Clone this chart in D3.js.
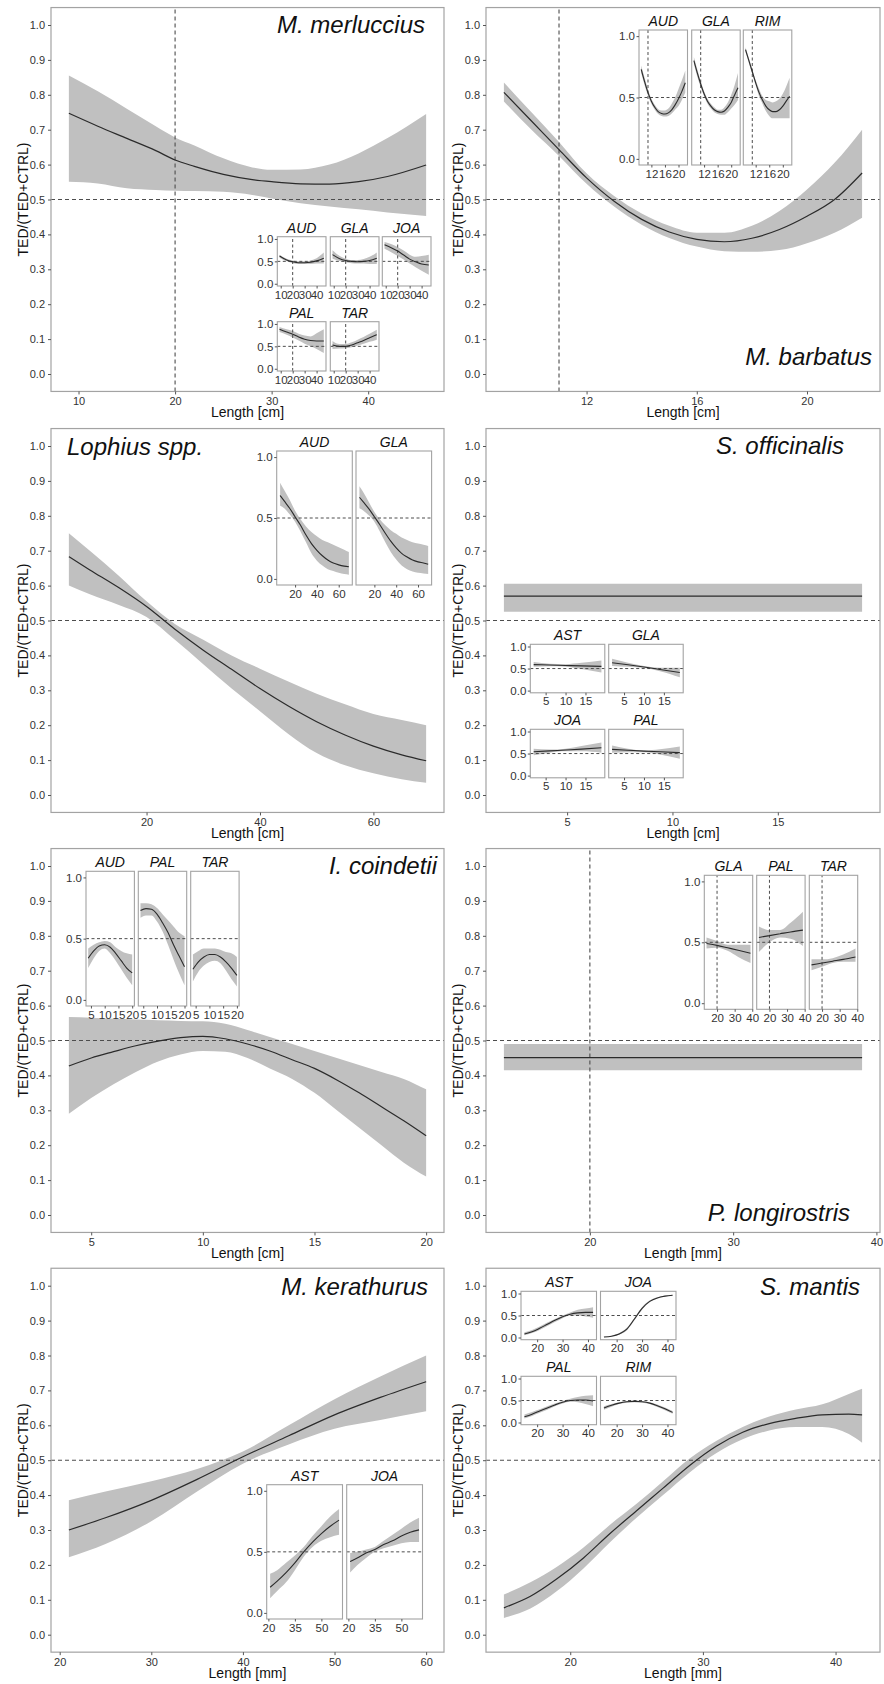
<!DOCTYPE html>
<html>
<head>
<meta charset="utf-8">
<script src="https://cdn.jsdelivr.net/npm/d3@7"></script>
<style>
  body { margin: 0; background: #fff; }
  text { font-family: "Liberation Sans", Arial, sans-serif; }
</style>
</head>
<body>
<svg id="chart" width="884" height="1684"></svg>
<script>
// ---- main panels: length, fitted proportion, lower / upper 95% band ----
const mmX   = [9, 12, 15, 18, 20, 22, 25, 28, 30, 33, 36, 39, 42, 46];
const mmFit = [0.747, 0.71, 0.675, 0.64, 0.613, 0.595, 0.572, 0.557, 0.551, 0.545, 0.544, 0.551, 0.566, 0.599];
const mmLo  = [0.551, 0.546, 0.532, 0.527, 0.525, 0.524, 0.522, 0.513, 0.503, 0.489, 0.48, 0.472, 0.463, 0.453];
const mmHi  = [0.855, 0.81, 0.76, 0.71, 0.678, 0.655, 0.618, 0.592, 0.585, 0.586, 0.60, 0.632, 0.676, 0.745];

const mbX   = [9, 10, 11, 12, 13, 14, 15, 16, 17, 18, 19, 20, 21, 22];
const mbFit = [0.807, 0.725, 0.643, 0.562, 0.495, 0.443, 0.407, 0.386, 0.379, 0.389, 0.414, 0.452, 0.50, 0.576];
const mbLo  = [0.781, 0.70, 0.625, 0.545, 0.48, 0.428, 0.39, 0.365, 0.352, 0.35, 0.355, 0.375, 0.405, 0.448];
const mbHi  = [0.835, 0.75, 0.665, 0.575, 0.51, 0.46, 0.425, 0.405, 0.405, 0.425, 0.467, 0.529, 0.605, 0.70];

const loX   = [6.3, 10, 15, 20, 25, 30, 35, 40, 45, 50, 55, 60, 65, 69.3];
const loFit = [0.683, 0.645, 0.595, 0.54, 0.475, 0.415, 0.36, 0.305, 0.255, 0.21, 0.172, 0.14, 0.115, 0.098];
const loLo  = [0.60, 0.575, 0.545, 0.51, 0.445, 0.375, 0.305, 0.24, 0.175, 0.12, 0.085, 0.062, 0.045, 0.035];
const loHi  = [0.75, 0.70, 0.63, 0.555, 0.49, 0.445, 0.40, 0.362, 0.325, 0.29, 0.26, 0.232, 0.215, 0.20];

const soX   = [2, 19];
const soFit = [0.57, 0.57];
const soLo  = [0.525, 0.525];
const soHi  = [0.605, 0.605];

const icX   = [4, 5, 6, 7, 8, 9, 10, 11, 12, 13, 14, 15, 16, 17, 18, 19, 20];
const icFit = [0.427, 0.45, 0.468, 0.485, 0.498, 0.508, 0.512, 0.505, 0.49, 0.47, 0.445, 0.42, 0.387, 0.35, 0.31, 0.27, 0.227];
const icLo  = [0.29, 0.335, 0.375, 0.41, 0.44, 0.46, 0.47, 0.468, 0.45, 0.42, 0.39, 0.35, 0.30, 0.25, 0.20, 0.15, 0.11];
const icHi  = [0.567, 0.565, 0.562, 0.56, 0.558, 0.556, 0.555, 0.548, 0.53, 0.51, 0.49, 0.47, 0.45, 0.43, 0.41, 0.39, 0.36];

const plX   = [14, 39];
const plFit = [0.451, 0.451];
const plLo  = [0.415, 0.415];
const plHi  = [0.49, 0.49];

const mkX   = [21, 25, 30, 35, 40, 45, 50, 55, 60];
const mkFit = [0.30, 0.335, 0.385, 0.445, 0.51, 0.57, 0.63, 0.68, 0.725];
const mkLo  = [0.222, 0.26, 0.325, 0.41, 0.49, 0.545, 0.59, 0.615, 0.64];
const mkHi  = [0.385, 0.41, 0.44, 0.475, 0.525, 0.60, 0.675, 0.74, 0.80];

const smX   = [15, 17, 19, 21, 23, 25, 27, 29, 31, 33, 35, 37, 39, 41, 42];
const smFit = [0.077, 0.11, 0.16, 0.22, 0.29, 0.355, 0.42, 0.485, 0.54, 0.58, 0.605, 0.62, 0.63, 0.632, 0.63];
const smLo  = [0.048, 0.075, 0.125, 0.19, 0.265, 0.335, 0.40, 0.465, 0.52, 0.56, 0.585, 0.595, 0.595, 0.575, 0.55];
const smHi  = [0.115, 0.15, 0.195, 0.25, 0.315, 0.375, 0.44, 0.505, 0.555, 0.595, 0.625, 0.645, 0.66, 0.69, 0.705];

// ---- inset panels (per area) ----
const mmInX = [9, 15, 20, 25, 30, 35, 40, 46];
const mmAudFit = [0.62, 0.53, 0.49, 0.47, 0.47, 0.48, 0.51, 0.57];
const mmAudLo  = [0.58, 0.50, 0.46, 0.44, 0.44, 0.44, 0.45, 0.45];
const mmAudHi  = [0.65, 0.56, 0.52, 0.50, 0.50, 0.52, 0.57, 0.70];
const mmGlaFit = [0.65, 0.56, 0.52, 0.50, 0.49, 0.50, 0.52, 0.57];
const mmGlaLo  = [0.56, 0.51, 0.48, 0.46, 0.45, 0.45, 0.44, 0.44];
const mmGlaHi  = [0.75, 0.62, 0.56, 0.53, 0.53, 0.55, 0.60, 0.70];
const mmJoaFit = [0.87, 0.80, 0.73, 0.64, 0.55, 0.49, 0.44, 0.42];
const mmJoaLo  = [0.78, 0.70, 0.62, 0.54, 0.45, 0.37, 0.29, 0.20];
const mmJoaHi  = [0.93, 0.88, 0.82, 0.74, 0.65, 0.60, 0.62, 0.65];
const mmPalFit = [0.88, 0.82, 0.77, 0.71, 0.66, 0.63, 0.62, 0.62];
const mmPalLo  = [0.82, 0.76, 0.70, 0.63, 0.56, 0.50, 0.44, 0.35];
const mmPalHi  = [0.93, 0.88, 0.84, 0.78, 0.74, 0.72, 0.79, 0.88];
const mmTarFit = [0.53, 0.50, 0.50, 0.53, 0.58, 0.63, 0.69, 0.76];
const mmTarLo  = [0.44, 0.45, 0.46, 0.48, 0.52, 0.56, 0.60, 0.65];
const mmTarHi  = [0.62, 0.55, 0.55, 0.59, 0.65, 0.71, 0.78, 0.87];

const mbInX = [9, 10, 11, 12, 13, 14, 15, 16, 17, 18, 19, 20, 21, 22];
const mbAudFit = [0.73, 0.63, 0.54, 0.47, 0.42, 0.385, 0.37, 0.365, 0.375, 0.40, 0.44, 0.49, 0.55, 0.62];
const mbAudLo  = [0.70, 0.60, 0.515, 0.45, 0.40, 0.365, 0.35, 0.345, 0.35, 0.37, 0.40, 0.43, 0.48, 0.54];
const mbAudHi  = [0.76, 0.66, 0.565, 0.49, 0.44, 0.405, 0.395, 0.395, 0.41, 0.45, 0.50, 0.57, 0.64, 0.72];
const mbGlaFit = [0.80, 0.70, 0.61, 0.53, 0.47, 0.43, 0.40, 0.385, 0.38, 0.39, 0.42, 0.46, 0.52, 0.58];
const mbGlaLo  = [0.77, 0.67, 0.585, 0.51, 0.45, 0.41, 0.38, 0.365, 0.36, 0.36, 0.38, 0.41, 0.44, 0.48];
const mbGlaHi  = [0.83, 0.73, 0.635, 0.55, 0.49, 0.45, 0.42, 0.40, 0.40, 0.42, 0.46, 0.52, 0.60, 0.70];
const mbRimFit = [0.89, 0.80, 0.71, 0.62, 0.54, 0.48, 0.43, 0.40, 0.385, 0.385, 0.40, 0.43, 0.47, 0.51];
const mbRimLo  = [0.87, 0.78, 0.69, 0.60, 0.51, 0.45, 0.39, 0.35, 0.33, 0.33, 0.33, 0.33, 0.33, 0.33];
const mbRimHi  = [0.91, 0.82, 0.73, 0.64, 0.57, 0.51, 0.48, 0.47, 0.46, 0.47, 0.49, 0.53, 0.59, 0.66];

const loInX = [6.3, 10, 15, 20, 25, 30, 35, 40, 45, 50, 55, 60, 65, 69.3];
const loAudFit = [0.685, 0.64, 0.58, 0.51, 0.44, 0.36, 0.29, 0.235, 0.19, 0.155, 0.13, 0.115, 0.105, 0.10];
const loAudLo  = [0.60, 0.58, 0.53, 0.47, 0.39, 0.30, 0.21, 0.15, 0.11, 0.08, 0.065, 0.05, 0.04, 0.035];
const loAudHi  = [0.79, 0.73, 0.65, 0.56, 0.49, 0.43, 0.385, 0.35, 0.32, 0.30, 0.28, 0.26, 0.24, 0.22];
const loGlaFit = [0.67, 0.63, 0.575, 0.51, 0.445, 0.375, 0.31, 0.255, 0.21, 0.18, 0.155, 0.14, 0.13, 0.12];
const loGlaLo  = [0.58, 0.56, 0.52, 0.47, 0.39, 0.30, 0.22, 0.16, 0.11, 0.08, 0.06, 0.05, 0.045, 0.04];
const loGlaHi  = [0.76, 0.71, 0.63, 0.55, 0.49, 0.44, 0.40, 0.37, 0.34, 0.32, 0.30, 0.29, 0.28, 0.27];

const soInX = [2, 6, 10, 14, 19];
const soAstFit = [0.59, 0.58, 0.57, 0.56, 0.55];
const soAstLo  = [0.54, 0.55, 0.54, 0.49, 0.41];
const soAstHi  = [0.65, 0.61, 0.60, 0.63, 0.68];
const soGlaFit = [0.63, 0.585, 0.535, 0.48, 0.41];
const soGlaLo  = [0.56, 0.54, 0.51, 0.44, 0.30];
const soGlaHi  = [0.72, 0.63, 0.56, 0.52, 0.52];
const soJoaFit = [0.54, 0.56, 0.58, 0.60, 0.63];
const soJoaLo  = [0.46, 0.52, 0.55, 0.55, 0.52];
const soJoaHi  = [0.61, 0.59, 0.61, 0.67, 0.75];
const soPalFit = [0.595, 0.575, 0.555, 0.54, 0.52];
const soPalLo  = [0.52, 0.53, 0.53, 0.48, 0.38];
const soPalHi  = [0.68, 0.61, 0.57, 0.60, 0.66];

const icInX = [4, 6, 8, 10, 12, 14, 16, 18, 20];
const icAudFit = [0.34, 0.40, 0.44, 0.45, 0.43, 0.38, 0.32, 0.26, 0.22];
const icAudLo  = [0.26, 0.34, 0.40, 0.42, 0.38, 0.32, 0.25, 0.18, 0.12];
const icAudHi  = [0.42, 0.45, 0.47, 0.48, 0.47, 0.43, 0.40, 0.38, 0.37];
const icPalFit = [0.73, 0.745, 0.74, 0.70, 0.63, 0.55, 0.45, 0.36, 0.27];
const icPalLo  = [0.67, 0.69, 0.69, 0.64, 0.56, 0.45, 0.33, 0.22, 0.12];
const icPalHi  = [0.79, 0.79, 0.78, 0.75, 0.70, 0.65, 0.60, 0.55, 0.52];
const icTarFit = [0.25, 0.31, 0.35, 0.37, 0.37, 0.35, 0.31, 0.26, 0.20];
const icTarLo  = [0.15, 0.23, 0.28, 0.31, 0.32, 0.30, 0.24, 0.17, 0.11];
const icTarHi  = [0.37, 0.40, 0.42, 0.42, 0.42, 0.41, 0.39, 0.38, 0.35];

const plInX = [14, 20, 26, 32, 39];
const plGlaFit = [0.49, 0.475, 0.455, 0.435, 0.41];
const plGlaLo  = [0.45, 0.455, 0.43, 0.38, 0.33];
const plGlaHi  = [0.54, 0.51, 0.48, 0.48, 0.48];
const plPalFit = [0.54, 0.555, 0.57, 0.585, 0.60];
const plPalLo  = [0.42, 0.50, 0.54, 0.53, 0.47];
const plPalHi  = [0.63, 0.60, 0.60, 0.66, 0.75];
const plTarFit = [0.315, 0.33, 0.345, 0.36, 0.38];
const plTarLo  = [0.27, 0.30, 0.33, 0.34, 0.34];
const plTarHi  = [0.36, 0.36, 0.37, 0.40, 0.45];

const mkInX = [21, 25, 30, 35, 40, 45, 50, 55, 60];
const mkAstFit = [0.21, 0.26, 0.33, 0.41, 0.50, 0.58, 0.65, 0.71, 0.76];
const mkAstLo  = [0.12, 0.18, 0.25, 0.35, 0.46, 0.54, 0.59, 0.62, 0.64];
const mkAstHi  = [0.32, 0.35, 0.41, 0.47, 0.54, 0.63, 0.71, 0.79, 0.85];
const mkJoaFit = [0.42, 0.45, 0.49, 0.52, 0.56, 0.59, 0.63, 0.66, 0.68];
const mkJoaLo  = [0.33, 0.39, 0.45, 0.50, 0.53, 0.55, 0.57, 0.58, 0.58];
const mkJoaHi  = [0.49, 0.50, 0.52, 0.54, 0.59, 0.64, 0.69, 0.74, 0.78];

const smInX = [15, 18, 21, 24, 27, 30, 33, 36, 39, 42];
const smAstFit = [0.08, 0.13, 0.21, 0.30, 0.39, 0.47, 0.53, 0.56, 0.57, 0.57];
const smAstLo  = [0.05, 0.10, 0.17, 0.26, 0.35, 0.44, 0.50, 0.50, 0.48, 0.45];
const smAstHi  = [0.12, 0.17, 0.25, 0.34, 0.42, 0.50, 0.57, 0.63, 0.66, 0.69];
const smJoaFit = [0.01, 0.03, 0.08, 0.19, 0.42, 0.66, 0.82, 0.90, 0.94, 0.96];
const smJoaLo  = [0.005, 0.02, 0.065, 0.16, 0.39, 0.63, 0.80, 0.885, 0.93, 0.95];
const smJoaHi  = [0.015, 0.04, 0.10, 0.22, 0.45, 0.69, 0.84, 0.915, 0.95, 0.97];
const smPalFit = [0.13, 0.19, 0.26, 0.33, 0.40, 0.46, 0.50, 0.51, 0.51, 0.49];
const smPalLo  = [0.09, 0.15, 0.22, 0.29, 0.37, 0.43, 0.47, 0.46, 0.42, 0.37];
const smPalHi  = [0.18, 0.24, 0.30, 0.37, 0.43, 0.49, 0.54, 0.58, 0.61, 0.62];
const smRimFit = [0.33, 0.39, 0.44, 0.47, 0.48, 0.47, 0.44, 0.38, 0.31, 0.23];
const smRimLo  = [0.29, 0.36, 0.42, 0.45, 0.46, 0.45, 0.42, 0.35, 0.28, 0.20];
const smRimHi  = [0.37, 0.42, 0.46, 0.49, 0.50, 0.49, 0.46, 0.41, 0.34, 0.26];

const yTicks = [0, 0.1, 0.2, 0.3, 0.4, 0.5, 0.6, 0.7, 0.8, 0.9, 1.0];
const insetYTicks = [0, 0.5, 1.0];

// ---- layout ----
const colX = [[51, 444], [486, 880]];
const rowOne = [25, 446, 866, 1285.7];   // pixel of y = 1.0 in each row
const UNIT = 349;                         // pixels per 1.0 on main y axis

const RIBBON = "#c0c0c0";
const LINE = "#2b2b2b";
const FRAME = "#a3a3a3";
const DASH = "#4d4d4d";
const TXT = "#333";

const panels = [
  { title: "M. merluccius", col: 0, row: 0, x: mmX, fit: mmFit, lo: mmLo, hi: mmHi, ticks: [10, 20, 30, 40], unit: "cm",
    vline: 20, tpos: [425, 33, "end"],
    inset: { x: mmInX, ticks: [10, 20, 30, 40], cols: [277.3, 330.3, 382.3], w: 48.7, rows: [236.7, 321.7], h: 49.3,
      items: [["AUD", 0, 0, mmAudFit, mmAudLo, mmAudHi], ["GLA", 1, 0, mmGlaFit, mmGlaLo, mmGlaHi], ["JOA", 2, 0, mmJoaFit, mmJoaLo, mmJoaHi],
              ["PAL", 0, 1, mmPalFit, mmPalLo, mmPalHi], ["TAR", 1, 1, mmTarFit, mmTarLo, mmTarHi]] } },
  { title: "M. barbatus", col: 1, row: 0, x: mbX, fit: mbFit, lo: mbLo, hi: mbHi, ticks: [12, 16, 20], unit: "cm",
    vline: 11, tpos: [872, 365, "end"],
    inset: { x: mbInX, ticks: [12, 16, 20], cols: [639, 691.7, 743.3], w: 48.5, rows: [30], h: 135,
      items: [["AUD", 0, 0, mbAudFit, mbAudLo, mbAudHi], ["GLA", 1, 0, mbGlaFit, mbGlaLo, mbGlaHi], ["RIM", 2, 0, mbRimFit, mbRimLo, mbRimHi]] } },
  { title: "Lophius spp.", col: 0, row: 1, x: loX, fit: loFit, lo: loLo, hi: loHi, ticks: [20, 40, 60], unit: "cm",
    vline: null, tpos: [67, 455, "start"],
    inset: { x: loInX, ticks: [20, 40, 60], cols: [276.7, 356], w: 75.6, rows: [451], h: 134,
      items: [["AUD", 0, 0, loAudFit, loAudLo, loAudHi], ["GLA", 1, 0, loGlaFit, loGlaLo, loGlaHi]] } },
  { title: "S. officinalis", col: 1, row: 1, x: soX, fit: soFit, lo: soLo, hi: soHi, ticks: [5, 10, 15], unit: "cm",
    vline: null, tpos: [844, 454, "end"],
    inset: { x: soInX, ticks: [5, 10, 15], cols: [530.3, 608.7], w: 74.5, rows: [644.3, 729.3], h: 48.5,
      items: [["AST", 0, 0, soAstFit, soAstLo, soAstHi], ["GLA", 1, 0, soGlaFit, soGlaLo, soGlaHi],
              ["JOA", 0, 1, soJoaFit, soJoaLo, soJoaHi], ["PAL", 1, 1, soPalFit, soPalLo, soPalHi]] } },
  { title: "I. coindetii", col: 0, row: 2, x: icX, fit: icFit, lo: icLo, hi: icHi, ticks: [5, 10, 15, 20], unit: "cm",
    vline: null, tpos: [437, 874, "end"],
    inset: { x: icInX, ticks: [5, 10, 15, 20], cols: [86, 138.3, 190.7], w: 48.4, rows: [871.3], h: 134.7,
      items: [["AUD", 0, 0, icAudFit, icAudLo, icAudHi], ["PAL", 1, 0, icPalFit, icPalLo, icPalHi], ["TAR", 2, 0, icTarFit, icTarLo, icTarHi]] } },
  { title: "P. longirostris", col: 1, row: 2, x: plX, fit: plFit, lo: plLo, hi: plHi, ticks: [20, 30, 40], unit: "mm",
    vline: 20, tpos: [850, 1221, "end"],
    inset: { x: plInX, ticks: [20, 30, 40], cols: [704.3, 756.7, 809.3], w: 48.4, rows: [875.3], h: 134,
      items: [["GLA", 0, 0, plGlaFit, plGlaLo, plGlaHi], ["PAL", 1, 0, plPalFit, plPalLo, plPalHi], ["TAR", 2, 0, plTarFit, plTarLo, plTarHi]] } },
  { title: "M. kerathurus", col: 0, row: 3, x: mkX, fit: mkFit, lo: mkLo, hi: mkHi, ticks: [20, 30, 40, 50, 60], unit: "mm",
    vline: null, tpos: [428, 1295, "end"],
    inset: { x: mkInX, ticks: [20, 35, 50], cols: [266.7, 346.7], w: 75.8, rows: [1484.7], h: 134.3,
      items: [["AST", 0, 0, mkAstFit, mkAstLo, mkAstHi], ["JOA", 1, 0, mkJoaFit, mkJoaLo, mkJoaHi]] } },
  { title: "S. mantis", col: 1, row: 3, x: smX, fit: smFit, lo: smLo, hi: smHi, ticks: [20, 30, 40], unit: "mm",
    vline: null, tpos: [860, 1295, "end"],
    inset: { x: smInX, ticks: [20, 30, 40], cols: [521, 600.5], w: 75.5, rows: [1291.3, 1376.3], h: 48.4,
      items: [["AST", 0, 0, smAstFit, smAstLo, smAstHi], ["JOA", 1, 0, smJoaFit, smJoaLo, smJoaHi],
              ["PAL", 0, 1, smPalFit, smPalLo, smPalHi], ["RIM", 1, 1, smRimFit, smRimLo, smRimHi]] } }
];

const svg = d3.select("#chart");
svg.append("rect").attr("width", 884).attr("height", 1684).attr("fill", "#fff");

function expanded(xs) {
  const e = d3.extent(xs), pad = (e[1] - e[0]) * 0.05;
  return [e[0] - pad, e[1] + pad];
}

// ribbon + fitted line, with dashed reference lines in between
function drawFit(g, x, y, xs, fit, lo, hi, vline, lw, dash) {
  const pts = xs.map((d, i) => ({ x: d, f: fit[i], l: lo[i], h: hi[i] }));
  g.append("path").datum(pts)
    .attr("fill", RIBBON)
    .attr("d", d3.area().x(d => x(d.x)).y0(d => y(d.l)).y1(d => y(d.h)).curve(d3.curveMonotoneX));

  const [xa, xb] = x.range();
  g.append("line").attr("x1", xa).attr("x2", xb).attr("y1", y(0.5)).attr("y2", y(0.5))
    .attr("stroke", DASH).attr("stroke-width", lw).attr("stroke-dasharray", dash);
  if (vline != null) {
    g.append("line").attr("x1", x(vline)).attr("x2", x(vline)).attr("y1", y(-0.05)).attr("y2", y(1.05))
      .attr("stroke", DASH).attr("stroke-width", lw).attr("stroke-dasharray", dash);
  }

  g.append("path").datum(pts)
    .attr("fill", "none").attr("stroke", LINE).attr("stroke-width", lw + 0.1)
    .attr("d", d3.line().x(d => x(d.x)).y(d => y(d.f)).curve(d3.curveMonotoneX));
}

function styleAxis(ax, size) {
  ax.select(".domain").remove();
  ax.selectAll(".tick line").attr("stroke", "#555");
  ax.selectAll(".tick text").attr("fill", TXT).attr("font-size", size)
    .attr("font-family", "'Liberation Sans', Arial, sans-serif");
}

function drawPanel(p) {
  const [x0, x1] = colX[p.col];
  const one = rowOne[p.row];
  const y = d3.scaleLinear().domain([0, 1]).range([one + UNIT, one]);
  const x = d3.scaleLinear().domain(expanded(p.x)).range([x0, x1]);
  const top = y(1.05), bot = y(-0.05);
  const g = svg.append("g");

  drawFit(g, x, y, p.x, p.fit, p.lo, p.hi, p.vline, 1.1, "4,3");

  g.append("rect").attr("x", x0).attr("y", top).attr("width", x1 - x0).attr("height", bot - top)
    .attr("fill", "none").attr("stroke", FRAME).attr("stroke-width", 1.2);

  const ax = g.append("g").attr("transform", `translate(0,${bot})`)
    .call(d3.axisBottom(x).tickValues(p.ticks).tickSize(3).tickPadding(3).tickFormat(d3.format("d")));
  styleAxis(ax, 11);
  const ay = g.append("g").attr("transform", `translate(${x0},0)`)
    .call(d3.axisLeft(y).tickValues(yTicks).tickSize(3).tickPadding(3).tickFormat(d3.format(".1f")));
  styleAxis(ay, 11);

  g.append("text").attr("x", (x0 + x1) / 2).attr("y", bot + 25.5).attr("text-anchor", "middle")
    .attr("font-size", 14).attr("fill", "#111").text(`Length [${p.unit}]`);
  g.append("text").attr("transform", `translate(${x0 - 28},${(top + bot) / 2}) rotate(-90)`)
    .attr("text-anchor", "middle").attr("dy", "0.35em")
    .attr("font-size", 14).attr("fill", "#111").text("TED/(TED+CTRL)");

  g.append("text").attr("x", p.tpos[0]).attr("y", p.tpos[1]).attr("text-anchor", p.tpos[2])
    .attr("font-size", 24).attr("font-style", "italic").attr("fill", "#111").text(p.title);

  drawInsets(p.inset, p.vline);
}

function drawInsets(s, vline) {
  s.items.forEach(([lab, c, r, fit, lo, hi]) => {
    const ix0 = s.cols[c], iy0 = s.rows[r];
    const x = d3.scaleLinear().domain(expanded(s.x)).range([ix0, ix0 + s.w]);
    const y = d3.scaleLinear().domain([-0.05, 1.05]).range([iy0 + s.h, iy0]);
    const g = svg.append("g");

    g.append("rect").attr("x", ix0).attr("y", iy0).attr("width", s.w).attr("height", s.h).attr("fill", "#fff");
    drawFit(g, x, y, s.x, fit, lo, hi, vline, 1, "3,2.5");
    g.append("rect").attr("x", ix0).attr("y", iy0).attr("width", s.w).attr("height", s.h)
      .attr("fill", "none").attr("stroke", FRAME).attr("stroke-width", 1.1);

    g.append("text").attr("x", ix0 + s.w / 2).attr("y", iy0 - 4).attr("text-anchor", "middle")
      .attr("font-size", 14).attr("font-style", "italic").attr("fill", "#111").text(lab);

    const ax = g.append("g").attr("transform", `translate(0,${iy0 + s.h})`)
      .call(d3.axisBottom(x).tickValues(s.ticks).tickSize(2.5).tickPadding(2).tickFormat(d3.format("d")));
    styleAxis(ax, 11.5);
    if (c === 0) {
      const ay = g.append("g").attr("transform", `translate(${ix0},0)`)
        .call(d3.axisLeft(y).tickValues(insetYTicks).tickSize(2.5).tickPadding(1.5).tickFormat(d3.format(".1f")));
      styleAxis(ay, 11.5);
    }
  });
}

panels.forEach(drawPanel);
</script>
</body>
</html>
